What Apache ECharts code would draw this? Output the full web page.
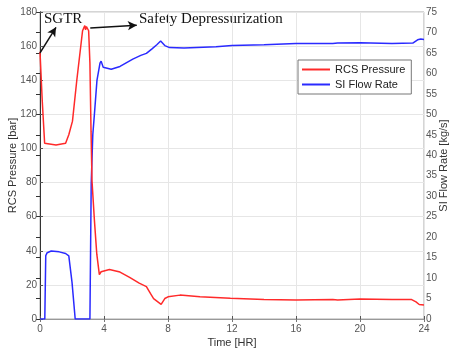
<!DOCTYPE html>
<html>
<head>
<meta charset="utf-8">
<script src="https://cdn.jsdelivr.net/npm/echarts@6/dist/echarts.min.js"></script>
<style>html,body{margin:0;padding:0;background:#fff}#c{width:451px;height:351px}</style>
</head>
<body>
<div id="c"></div>
<script>
var xTicks = [0, 4, 8, 12, 16, 20, 24];
var leftTicks = [0, 20, 40, 60, 80, 100, 120, 140, 160, 180];
var rightTicks = [0, 5, 10, 15, 20, 25, 30, 35, 40, 45, 50, 55, 60, 65, 70, 75];

var seriesNames = ['RCS Pressure', 'SI Flow Rate'];
var axisNames = ['Time [HR]', 'RCS Pressure [bar]', 'SI Flow Rate [kg/s]'];

var rcsTime = [0, 0.14, 0.29, 0.4, 1.0, 1.6, 1.8, 2.03, 2.3, 2.66, 2.75, 2.8, 2.85, 2.9, 3.04, 3.12, 3.19, 3.25, 3.4, 3.55, 3.71, 3.82, 4.34, 5.0, 5.6, 6.2, 6.65, 6.9, 7.1, 7.57, 7.8, 8.0, 8.75, 10, 11.9, 14, 16, 18.3, 18.4, 18.6, 20, 22, 23.2, 23.5, 23.7, 24];
var rcsPressure = [156.7, 128, 103, 102, 102, 103, 108, 116, 140, 169, 170, 172, 169.5, 171.5, 169, 150, 110, 81, 58, 38, 26, 27.7, 29, 27.5, 24.4, 21, 19, 15, 12, 8.6, 12, 13, 14, 13, 12.1, 11.5, 11.1, 11.5, 10.5, 11.2, 11.7, 11.5, 11.5, 10, 8.5, 8.2];

var siTime = [0, 0.3, 0.36, 0.45, 0.7, 1.2, 1.6, 1.8, 2.0, 2.2, 3.12, 3.2, 3.3, 3.4, 3.56, 3.75, 3.82, 3.95, 4.45, 5.0, 5.8, 6.3, 6.65, 7.0, 7.3, 7.54, 7.8, 8.1, 9, 11, 12, 14, 16, 18.3, 18.4, 18.6, 20, 22, 23.3, 23.6, 23.8, 24];
var siFlow = [0, 0, 15.5, 16.2, 16.6, 16.4, 16.0, 15.4, 9, 0, 0, 33, 45, 50, 58.3, 62.5, 63, 61.5, 61, 61.7, 63.5, 64.4, 64.9, 66, 67, 67.9, 66.8, 66.3, 66.2, 66.5, 66.8, 67, 67.3, 67.3, 67.6, 67.4, 67.5, 67.3, 67.4, 68.2, 68.4, 68.3];

var annotations = ['SGTR', 'Safety Depressurization'];
var sgtrArrow = [[0, 156], [1.0, 171]];
var depArrow = [[3.14, 170.6], [6.05, 172.3]];

function pairs(xs, ys) { return xs.map(function (x, i) { return [x, ys[i]]; }); }

var chart = echarts.init(document.getElementById('c'));
var labelStyle = { color: '#555', fontFamily: 'Liberation Sans, Arial, sans-serif', fontSize: 10 };
var nameStyle = { color: '#333', fontFamily: 'Liberation Sans, Arial, sans-serif', fontSize: 11 };
var arrowLine = function (pts) {
  return {
    silent: true, symbol: ['none', 'arrow'], symbolSize: [7, 9],
    label: { show: false },
    lineStyle: { color: '#111', width: 1.5, type: 'solid' },
    data: [[{ coord: pts[0] }, { coord: pts[1] }]]
  };
};
chart.setOption({
  animation: false,
  grid: { left: 40, right: 27, top: 12, bottom: 32, show: true, borderColor: '#aaa', borderWidth: 1, containLabel: false, outerBoundsMode: 'none' },
  legend: {
    left: 298, top: 60, orient: 'vertical', itemGap: 4,
    backgroundColor: '#fff', borderColor: '#777', borderWidth: 1,
    padding: [4, 6, 4, 4], itemWidth: 28, itemHeight: 2, icon: 'rect',
    textStyle: { color: '#222', fontFamily: 'Liberation Sans, Arial, sans-serif', fontSize: 11 },
    data: seriesNames
  },
  xAxis: [{
    type: 'value', min: xTicks[0], max: xTicks[xTicks.length - 1], interval: 4,
    name: axisNames[0], nameLocation: 'middle', nameGap: 18, nameMoveOverlap: false, nameTextStyle: nameStyle,
    axisLine: { lineStyle: { color: '#555' } },
    axisTick: { inside: true, length: 3, lineStyle: { color: '#555' } },
    axisLabel: Object.assign({ margin: 5 }, labelStyle),
    splitLine: { show: true, lineStyle: { color: '#e6e6e6' } }
  }, {
    type: 'value', position: 'top', min: 0, max: 24, interval: 4,
    axisLine: { show: true, lineStyle: { color: '#999' } },
    axisTick: { show: true, inside: true, length: 3, lineStyle: { color: '#777' } },
    axisLabel: { show: false }, splitLine: { show: false }
  }],
  yAxis: [{
    type: 'value', min: leftTicks[0], max: leftTicks[leftTicks.length - 1], interval: 20,
    name: axisNames[1], nameLocation: 'middle', nameGap: 22, nameRotate: 90, nameMoveOverlap: false, nameTextStyle: nameStyle,
    axisLine: { show: true, lineStyle: { color: '#555' } },
    axisTick: { show: true, inside: true, length: 3, lineStyle: { color: '#555' } },
    axisLabel: Object.assign({ margin: 3 }, labelStyle),
    splitLine: { show: true, lineStyle: { color: '#e6e6e6' } }
  }, {
    type: 'value', position: 'right', min: rightTicks[0], max: rightTicks[rightTicks.length - 1], interval: 5,
    name: axisNames[2], nameLocation: 'middle', nameGap: 14, nameRotate: 90, nameMoveOverlap: false, nameTextStyle: nameStyle,
    axisLine: { show: true, lineStyle: { color: '#333' } },
    axisTick: { show: true, inside: true, length: 4, lineStyle: { color: '#333' } },
    axisLabel: Object.assign({ margin: 2 }, labelStyle),
    splitLine: { show: false }
  }],
  series: [{
    name: seriesNames[0], type: 'line', xAxisIndex: 0, yAxisIndex: 0, showSymbol: false,
    data: pairs(rcsTime, rcsPressure), lineStyle: { color: '#ff2a2a', width: 1.5 }, itemStyle: { color: '#ff2a2a' },
    markLine: arrowLine(sgtrArrow), z: 3
  }, {
    name: seriesNames[1], type: 'line', xAxisIndex: 0, yAxisIndex: 1, showSymbol: false,
    data: pairs(siTime, siFlow), lineStyle: { color: '#2a2aff', width: 1.5 }, itemStyle: { color: '#2a2aff' },
    z: 2
  }, {
    name: 'arrow2', type: 'line', xAxisIndex: 0, yAxisIndex: 0, data: [], markLine: arrowLine(depArrow)
  }],
  graphic: [{
    type: 'text', left: 44, top: 12,
    style: { text: annotations[0], fill: '#111', font: '15px "Liberation Serif", "Times New Roman", serif' }
  }, {
    type: 'text', left: 139, top: 12,
    style: { text: annotations[1], fill: '#111', font: '15px "Liberation Serif", "Times New Roman", serif' }
  }]
});
</script>
</body>
</html>
